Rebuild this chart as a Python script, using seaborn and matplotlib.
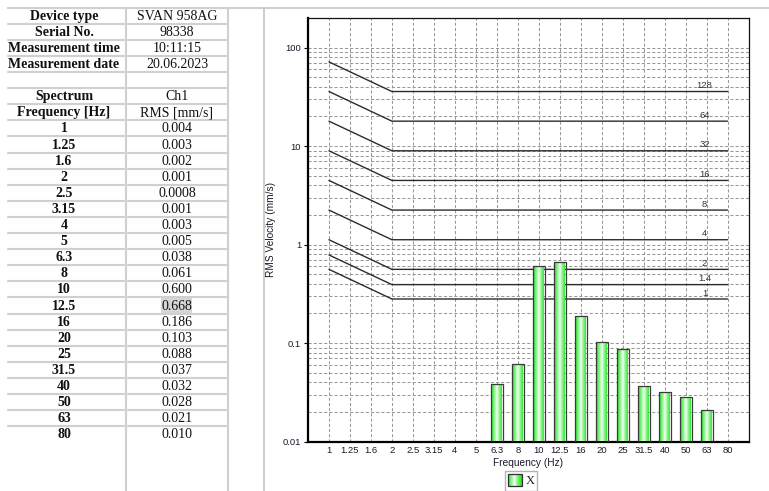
import numpy as np
import matplotlib
matplotlib.use("Agg")
import matplotlib.pyplot as plt
import seaborn as sns
import pandas as pd
from matplotlib.lines import Line2D
from matplotlib.patches import Rectangle
from matplotlib.legend_handler import HandlerBase
from matplotlib.ticker import FixedLocator, LogLocator, NullFormatter

# ---------------- data ----------------
freq_labels = ["1", "1.25", "1.6", "2", "2.5", "3.15", "4", "5", "6.3", "8", "10",
               "12.5", "16", "20", "25", "31.5", "40", "50", "63", "80"]
rms_values = [0.004, 0.003, 0.002, 0.001, 0.0008, 0.001, 0.003, 0.005, 0.038, 0.061,
              0.600, 0.668, 0.186, 0.103, 0.088, 0.037, 0.032, 0.028, 0.021, 0.010]
info_keys = ["Device type", "Serial No.", "Measurement time", "Measurement date", "",
             "Spectrum", "Frequency [Hz]"]
info_values = ["SVAN 958AG", "98338", "10:11:15", "20.06.2023", "", "Ch1", "RMS [mm/s]"]
base_velocity = 0.28
curve_multipliers = [1, 1.4, 2, 4, 8, 16, 32, 64, 128]
curve_names = ["1", "1.4", "2", "4", "8", "16", "32", "64", "128"]
curve_corner_freqs = ["1", "2", "80"]
curve_corner_factors = [2.0, 1.0, 1.0]
y_ticks = [0.01, 0.1, 1, 10, 100]
y_tick_labels = ["0.01", "0.1", "1", "10", "100"]
legend_label = "X"

# ---------------- setup ----------------
sns.set_style("white")
plt.rcParams["font.family"] = ["Liberation Sans", "DejaVu Sans"]

W, H = 769, 491
fig = plt.figure(figsize=(W / 100, H / 100), dpi=100)


def fx(px):
    return px / W


def fy(py):
    return 1 - py / H


# ---------------- table ----------------
GRID_GRAY = "#d0d0d0"
row_h = 16.1
top = 7.6
table_keys = info_keys + freq_labels
table_vals = info_values + [(f"{v:.3f}" if v >= 0.001 else f"{v:.4f}") for v in rms_values]
hl_row = len(info_keys) + int(np.argmax(rms_values))

for k in range(len(table_keys)):
    y = top + row_h * k
    fig.add_artist(Line2D([fx(8), fx(124)], [fy(y), fy(y)], color=GRID_GRAY, lw=1.5))
    fig.add_artist(Line2D([fx(128), fx(227)], [fy(y), fy(y)], color=GRID_GRAY, lw=1.5))
fig.add_artist(Line2D([fx(8), fx(769)], [fy(top), fy(top)], color=GRID_GRAY, lw=1.5))
for xv in (126, 228):
    fig.add_artist(Line2D([fx(xv), fx(xv)], [fy(top), fy(H)], color=GRID_GRAY, lw=1.5))
fig.add_artist(Line2D([fx(264), fx(264)], [fy(top), fy(H)], color="#c4c4c4", lw=1.2))

# highlight
y0 = top + row_h * hl_row + 0.8
fig.add_artist(Rectangle((fx(161), fy(y0 + 15.3)), fx(192) - fx(161), fy(y0) - fy(y0 + 15.3),
                         facecolor="#d6d6d6", edgecolor="none", transform=fig.transFigure))

for i, (k, v) in enumerate(zip(table_keys, table_vals)):
    yc = top + row_h * (i + 0.5) + 0.6
    if k:
        fig.text(fx(64), fy(yc), k, ha="center", va="center", family="Liberation Serif",
                 fontweight="bold", fontsize=10, color="#111111")
    if v:
        fig.text(fx(177), fy(yc), v, ha="center", va="center", family="Liberation Serif",
                 fontsize=10, color="#111111")

# ---------------- chart ----------------
ax = fig.add_axes([fx(308), fy(441.5), fx(748.5) - fx(308), fy(18) - fy(441.5)])
df = pd.DataFrame({"freq": freq_labels, "rms": rms_values})
sns.barplot(data=df, x="freq", y="rms", order=freq_labels, color="#44ee44",
            edgecolor="#3a3a3a", linewidth=0.9, width=0.57, saturation=1,
            ax=ax, zorder=4)
ax.set_yscale("log")

# gradient fill inside bars
green = np.array([0.10, 0.90, 0.10])
white = np.array([0.95, 1.0, 0.95])
t = np.linspace(0, 1, 64)
s = np.clip(1 - np.abs(t - 0.45) / 0.55, 0, 1) ** 1.3
grad = green[None, :] * (1 - s[:, None]) + white[None, :] * s[:, None]
for p in list(ax.patches):
    h = p.get_height()
    if h <= 0.0101:
        continue
    x0, w = p.get_x(), p.get_width()
    im = ax.imshow(grad[None, :, :], extent=[x0, x0 + w, 0.01, h], aspect="auto",
                   zorder=3.8, interpolation="bilinear")
    im.set_clip_path(p)
    p.set_facecolor("none")
    p.set_zorder(4)

# limit curves
idx = {f: i for i, f in enumerate(freq_labels)}
xs = [idx[f] for f in curve_corner_freqs]
for m, name in zip(curve_multipliers, curve_names):
    ys = [base_velocity * m * fac for fac in curve_corner_factors]
    ax.plot(xs, ys, color="#2b2b2b", lw=1.0, zorder=3)
    ax.annotate(name, xy=(idx["63"], base_velocity * m), xytext=(-1.5, 1.0),
                textcoords="offset points", ha="center", va="bottom", fontsize=6.8,
                color="#333344", zorder=3.2)

ax.set_xlim(-1, len(freq_labels))
ax.set_ylim(0.01, 200)

ax.set_xticks(range(len(freq_labels)))
ax.set_xticklabels(freq_labels)
ax.yaxis.set_major_locator(FixedLocator(y_ticks))
ax.set_yticklabels(y_tick_labels)
ax.yaxis.set_minor_locator(LogLocator(base=10, subs=np.arange(2, 10)))
ax.yaxis.set_minor_formatter(NullFormatter())

ax.tick_params(axis="y", which="major", length=3, width=0.8, pad=2, labelsize=6.8,
               labelcolor="#1a1a2a", color="black", left=True)
ax.tick_params(axis="y", which="minor", length=0)
ax.tick_params(axis="x", length=0, pad=3.5, labelsize=6.8, labelcolor="#1a1a2a")

grid_kw = dict(ls=(0, (3, 2)), color="#999999", lw=0.75)
ax.grid(True, which="major", axis="x", **grid_kw)
ax.grid(True, which="both", axis="y", **grid_kw)
ax.set_axisbelow(True)

for side in ("left", "bottom"):
    ax.spines[side].set_linewidth(1.6)
    ax.spines[side].set_color("black")
for side in ("top", "right"):
    ax.spines[side].set_linewidth(0.9)
    ax.spines[side].set_color("#111111")
    ax.spines[side].set_visible(True)

ax.set_ylabel("RMS Velocity (mm/s)", fontsize=7.3, labelpad=5, color="#1a1a2a")
ax.set_xlabel("Frequency (Hz)", fontsize=7.3, labelpad=2, color="#1a1a2a")


# legend with gradient swatch
class GradHandler(HandlerBase):
    def create_artists(self, legend, orig_handle, xdescent, ydescent, width, height,
                       fontsize, trans):
        arts = []
        n = 14
        for i in range(n):
            c = grad[int((i + 0.5) / n * (len(grad) - 1))]
            arts.append(Rectangle((-xdescent + i * width / n, -ydescent), width / n + 0.3,
                                  height, facecolor=c, edgecolor="none", transform=trans))
        arts.append(Rectangle((-xdescent, -ydescent), width, height, facecolor="none",
                              edgecolor="#303030", lw=0.9, transform=trans))
        return arts


swatch = Rectangle((0, 0), 1, 1)
leg = fig.legend(handles=[swatch], labels=[legend_label], handler_map={swatch: GradHandler()},
                 loc="upper center", bbox_to_anchor=(fx(521), fy(471)), frameon=True,
                 fancybox=False, edgecolor="#a0a0a0",
                 prop={"family": "Liberation Serif", "size": 9},
                 handlelength=1.1, handleheight=1.1, handletextpad=0.3, borderpad=0.25,
                 borderaxespad=0)
leg.get_frame().set_linewidth(1.0)

fig.savefig("out.png", dpi=100)
